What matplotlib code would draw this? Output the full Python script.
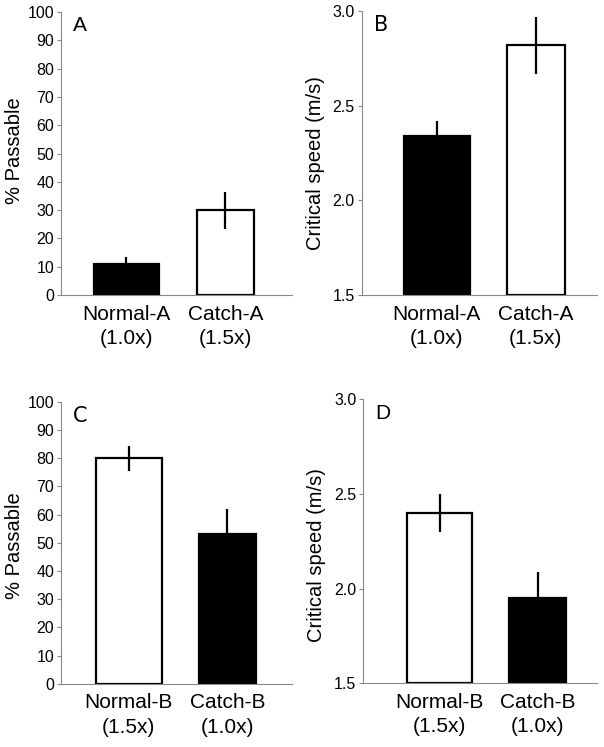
import matplotlib
matplotlib.use("Agg")
import matplotlib.pyplot as plt

plt.rcParams['font.family'] = ['Liberation Sans', 'DejaVu Sans']

# Data
labels_A = ["Normal-A\n(1.0x)", "Catch-A\n(1.5x)"]
labels_B = ["Normal-B\n(1.5x)", "Catch-B\n(1.0x)"]

pass_A = [11, 30]
pass_A_err = [2.3, 6.5]
speed_A = [2.34, 2.82]
speed_A_err = [0.08, 0.15]

pass_B = [80, 53]
pass_B_err = [4.4, 9.0]
speed_B = [2.40, 1.95]
speed_B_err = [0.10, 0.14]

colors_A = ["black", "white"]
colors_B = ["white", "black"]

fig = plt.figure(figsize=(6.04, 7.47), dpi=100)

panels = [
    ([0.101, 0.605, 0.382, 0.379], pass_A, pass_A_err, labels_A, colors_A, (0, 100),
     list(range(0, 101, 10)), "% Passable", "A", (-0.662, 1.672), [0.657, 0.576], 'Liberation Sans', 0.51),
    ([0.599, 0.605, 0.389, 0.380], speed_A, speed_A_err, labels_A, colors_A, (1.5, 3.0),
     [1.5, 2.0, 2.5, 3.0], "Critical speed (m/s)", "B", (-0.758, 1.616), [0.667, 0.586], 'DejaVu Sans', 0.465),
    ([0.101, 0.0847, 0.382, 0.3775], pass_B, pass_B_err, labels_B, colors_B, (0, 100),
     list(range(0, 101, 10)), "% Passable", "C", (-0.69, 1.655), [0.67, 0.58], 'DejaVu Sans', 0.49),
    ([0.6015, 0.0853, 0.3865, 0.3802], speed_B, speed_B_err, labels_B, colors_B, (1.5, 3.0),
     [1.5, 2.0, 2.5, 3.0], "Critical speed (m/s)", "D", (-0.776, 1.60), [0.67, 0.58], 'Liberation Sans', 0.45),
]

for rect, vals, errs, labs, cols, ylim, yticks, ylabel, letter, xlim, widths, lfont, ly in panels:
    ax = fig.add_axes(rect)
    x = [0, 1]
    base = ylim[0]
    heights = [v - base for v in vals]
    ax.bar(x, heights, bottom=base, width=widths, color=cols, edgecolor='black',
           linewidth=1.6, zorder=2)
    ax.errorbar(x, vals, yerr=errs, fmt='none', ecolor='black', elinewidth=1.6,
                capsize=0, zorder=3)
    ax.set_ylim(*ylim)
    ax.set_xlim(*xlim)
    ax.set_yticks(yticks)
    if ylim[1] == 100:
        ax.set_yticklabels([str(t) for t in yticks])
    else:
        ax.set_yticklabels([f"{t:.1f}" for t in yticks])
    ax.set_xticks(x)
    ax.set_xticklabels(labs, fontsize=15, linespacing=1.35)
    ax.tick_params(axis='x', length=0, pad=7)
    ax.tick_params(axis='y', length=3, width=0.8, color='#888888', labelsize=11.5, pad=2)
    for s in ['top', 'right']:
        ax.spines[s].set_visible(False)
    for s in ['left', 'bottom']:
        ax.spines[s].set_color('#888888')
        ax.spines[s].set_linewidth(0.8)
    ax.set_ylabel(ylabel, fontsize=14.5)
    w_px = rect[2] * 604
    ax.yaxis.set_label_coords(-37.0 / w_px, ly)
    ax.text(0.05, 0.985, letter, transform=ax.transAxes, fontsize=15,
            family=lfont, va='top', ha='left')

fig.savefig("out.png", dpi=100)
